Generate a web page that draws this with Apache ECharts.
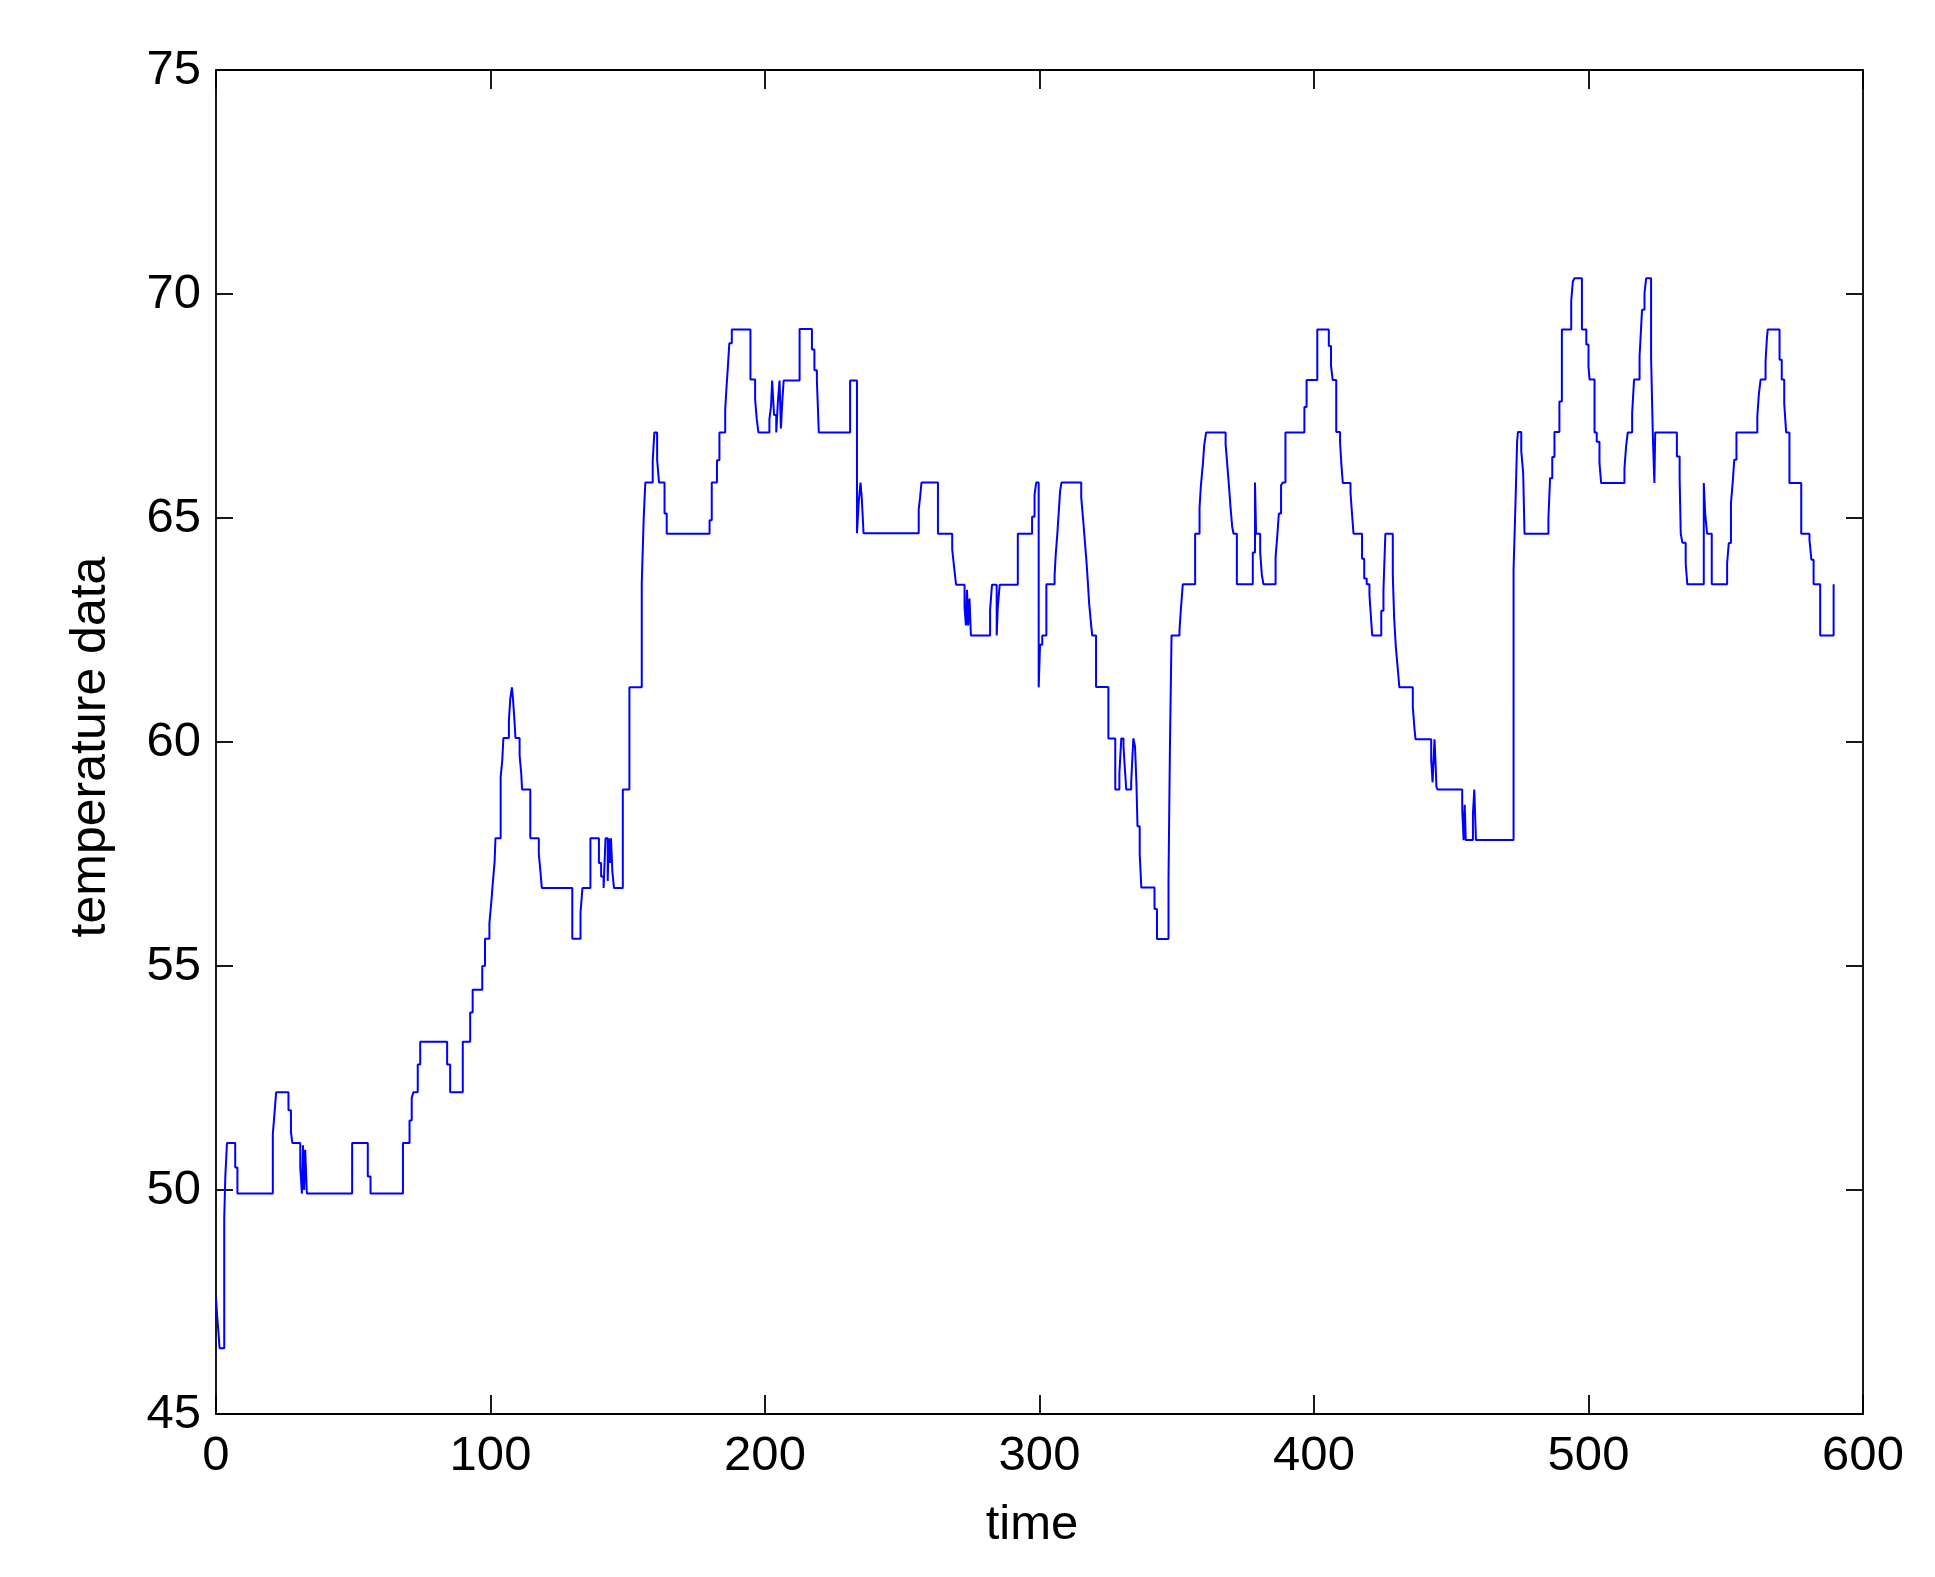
<!DOCTYPE html>
<html><head><meta charset="utf-8">
<script src="https://cdn.jsdelivr.net/npm/echarts/dist/echarts.min.js"></script>
<style>html,body{margin:0;padding:0;background:#fff;}#chart{width:1935px;height:1577px;}</style>
</head><body><div id="chart"></div>
<script>
// plateau start times (value holds from this time until the next one)
const times = [
0,0.4,0.8,1.3,3.0,3.4,4.0,7.0,7.8,20.7,21.3,21.9,26.4,27.3,27.8,30.7,31.3,31.7,32.1,32.5,33.1,
49.6,55.3,56.3,68.1,70.5,71.3,71.9,73.5,74.4,84.2,85.3,89.9,92.6,93.5,97.0,98.0,99.6,
100.3,100.9,101.5,101.8,103.7,104.3,104.7,106.7,107.2,107.8,108.2,108.7,109.1,110.6,111.2,111.5,
114.5,117.6,118.2,118.7,129.8,132.8,133.5,136.4,139.5,140.3,141.2,141.9,142.7,143.1,143.5,143.9,144.4,145.0,
148.2,150.6,155.1,155.8,156.4,159.1,159.7,160.7,161.4,163.4,164.2,179.8,180.6,182.5,183.4,185.5,186.0,186.5,187.0,187.9,
194.7,196.4,197.0,197.6,201.6,202.2,202.6,203.3,204.1,204.7,205.3,205.8,206.3,206.8,212.6,217.1,218.0,218.9,219.6,
231.0,233.5,234.2,234.8,235.3,235.9,256.0,256.5,257.0,263.0,268.2,268.9,269.6,272.7,273.2,273.6,274.0,274.5,275.0,
282.0,282.7,284.4,284.8,285.5,292.1,297.3,298.2,298.8,299.7,300.2,301.0,302.5,305.5,305.9,306.5,307.0,307.5,308.0,
315.2,315.9,316.5,317.1,317.6,318.1,318.8,319.2,320.6,325.1,327.6,329.1,329.8,330.6,331.0,331.6,333.4,333.8,334.2,334.8,
335.3,335.7,336.5,337.1,341.9,342.8,347.0,347.5,348.1,351.0,351.5,352.2,356.7,358.3,358.8,359.5,360.0,360.7,
367.8,368.4,369.0,369.6,370.2,370.7,371.9,377.7,378.5,378.9,380.4,381.0,381.6,386.0,386.6,387.2,388.0,388.6,389.6,
396.5,397.3,401.2,405.4,406.2,406.8,408.1,409.5,410.0,410.5,413.3,413.8,414.4,417.5,418.3,419.2,420.2,420.7,421.2,
424.5,425.3,426.0,428.7,429.2,429.8,430.5,431.1,436.0,436.6,437.0,442.7,443.2,443.9,444.3,444.6,445.0,
454.0,454.5,454.9,455.3,457.9,458.4,459.0,472.7,473.4,474.0,474.3,475.5,476.2,476.7,485.4,486.0,486.8,487.6,489.4,490.3,
493.7,494.3,494.9,497.6,499.2,500.0,500.4,502.2,503.0,504.0,504.6,513.1,513.7,514.3,515.9,516.6,518.6,519.0,519.5,520.4,521.0,
522.8,523.5,524.0,524.3,532.2,533.2,533.6,534.2,535.4,536.0,542.0,542.5,543.2,544.9,550.5,551.1,551.9,552.6,553.1,553.9,
561.5,562.1,562.7,564.5,565.0,565.3,569.6,570.4,571.3,572.0,573.2,577.5,580.5,581.2,582.0,584.4,589.3
];
const temps = [
47.6,47.2,46.9,46.47,49.36,50.31,51.05,50.5,49.92,51.25,51.7,52.18,51.78,51.3,51.05,50.5,49.92,51.0,50.0,50.9,49.92,
51.05,50.3,49.92,51.05,51.55,52.06,52.18,52.8,53.31,52.8,52.18,53.31,53.96,54.47,55.0,55.61,55.95,
56.43,56.9,57.33,57.85,59.22,59.6,60.09,60.48,60.96,61.22,60.96,60.5,60.09,59.7,59.3,58.94,
57.85,57.5,57.1,56.74,55.61,56.2,56.74,57.85,57.3,57.0,56.74,57.85,56.9,57.85,57.3,57.85,57.1,56.74,
58.94,61.22,63.53,64.98,65.79,66.29,66.91,66.3,65.79,65.1,64.65,64.95,65.79,66.29,66.91,67.42,67.94,68.4,68.9,69.21,
68.09,67.65,67.2,66.91,67.2,67.5,68.07,67.3,66.91,67.6,68.07,67.0,67.6,68.07,69.22,68.76,68.3,68.07,66.91,
68.07,64.66,65.4,65.79,65.4,64.66,65.2,65.46,65.79,64.65,64.3,63.9,63.51,63.0,62.6,63.4,62.6,63.2,62.38,
62.95,63.51,62.38,63.0,63.51,64.65,65.03,65.52,65.79,61.22,62.17,62.38,63.52,63.71,64.17,64.65,65.12,65.6,65.79,
65.46,64.96,64.5,64.04,63.58,63.08,62.62,62.38,61.23,60.08,58.94,59.3,60.08,59.9,59.5,58.94,59.1,59.6,60.08,59.9,
59.1,58.12,57.5,56.75,56.27,55.6,56.96,59.8,62.38,62.5,62.96,63.52,64.65,65.23,65.73,66.19,66.62,66.91,
66.65,66.19,65.73,65.23,64.8,64.65,63.52,64.23,65.79,64.65,64.23,63.73,63.52,64.12,64.58,65.1,65.73,65.79,66.91,
67.48,68.08,69.21,68.84,68.4,68.08,66.92,66.68,66.18,65.78,65.57,65.13,64.65,64.09,63.65,63.52,63.29,62.83,62.38,
62.93,63.4,64.65,63.73,62.77,62.13,61.65,61.22,60.78,60.3,60.06,59.6,59.1,60.06,59.5,59.0,58.94,
58.5,57.81,58.6,57.81,58.4,58.94,57.81,63.85,65.33,66.72,66.92,66.5,66.0,64.65,65.0,65.89,66.36,66.92,67.6,69.21,
69.84,70.28,70.35,69.21,68.87,68.38,68.09,66.91,66.7,66.23,65.78,66.11,66.6,66.91,67.34,68.09,68.61,69.06,69.65,70.02,70.35,
68.57,66.7,65.78,66.91,66.37,65.89,64.65,64.45,63.99,63.52,65.78,65.11,64.65,63.52,63.99,64.44,65.33,65.85,66.3,66.91,
67.27,67.79,68.09,68.5,69.02,69.21,68.53,68.09,67.56,66.91,65.78,64.65,64.51,64.07,63.52,62.38,63.52
];
const xTicks = [0, 100, 200, 300, 400, 500, 600];
const yTicks = [45, 50, 55, 60, 65, 70, 75];
const xTitle = 'time';
const yTitle = 'temperature data';

const FONT = '"Liberation Sans", Arial, Helvetica, sans-serif';
const lineStyle = {color: '#000', width: 1.8};
const data = times.map((t, i) => [t, temps[i]]);

const chart = echarts.init(document.getElementById('chart'), null, {renderer: 'canvas'});
const xBase = {
  type: 'value', min: xTicks[0], max: xTicks[xTicks.length - 1], interval: xTicks[1] - xTicks[0],
  splitLine: {show: false},
  axisLine: {show: true, onZero: false, lineStyle: lineStyle},
  axisTick: {show: true, inside: true, length: 19, lineStyle: lineStyle}
};
const yBase = {
  type: 'value', min: yTicks[0], max: yTicks[yTicks.length - 1], interval: yTicks[1] - yTicks[0],
  splitLine: {show: false},
  axisLine: {show: true, onZero: false, lineStyle: lineStyle},
  axisTick: {show: true, inside: true, length: 17, lineStyle: lineStyle}
};
chart.setOption({
  animation: false,
  backgroundColor: '#fff',
  grid: {left: 216, right: 72, top: 70, bottom: 163, containLabel: false, outerBoundsMode: 'none'},
  xAxis: [
    Object.assign({}, xBase, {
      position: 'bottom', name: xTitle, nameLocation: 'middle', nameGap: 87,
      nameTextStyle: {fontSize: 49, color: '#000', fontFamily: FONT, padding: [0, 15, 0, 0]},
      axisLabel: {show: true, fontSize: 49, color: '#000', fontFamily: FONT, margin: 18, showMinLabel: true, showMaxLabel: true}
    }),
    Object.assign({}, xBase, {position: 'top', axisLabel: {show: false}})
  ],
  yAxis: [
    Object.assign({}, yBase, {
      position: 'left', name: yTitle, nameLocation: 'middle', nameGap: 100,
      nameTextStyle: {fontSize: 50, color: '#000', fontFamily: FONT, padding: [0, 10, 0, 0]},
      axisLabel: {show: true, fontSize: 49, color: '#000', fontFamily: FONT, margin: 15, showMinLabel: true, showMaxLabel: true}
    }),
    Object.assign({}, yBase, {position: 'right', axisLabel: {show: false}})
  ],
  series: [{
    type: 'line', xAxisIndex: 0, yAxisIndex: 0, step: 'end', data: data,
    symbol: 'none', showSymbol: false,
    lineStyle: {color: '#0000ff', width: 2}
  }]
});
</script>
</body></html>
